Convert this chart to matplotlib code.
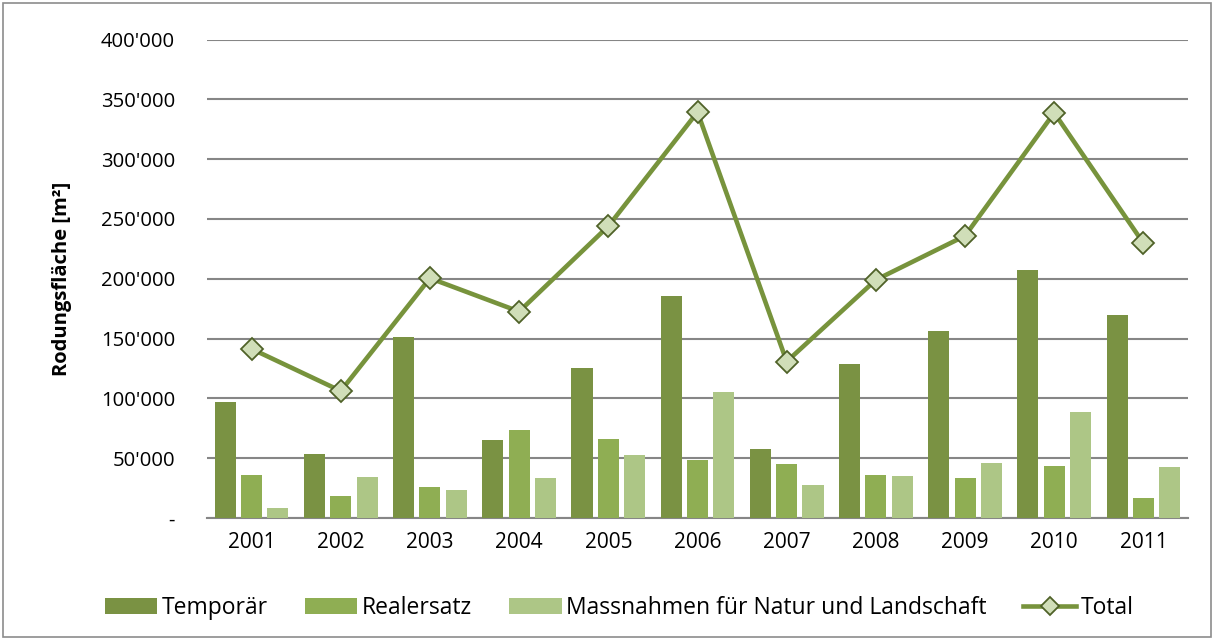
import numpy as np
import matplotlib.pyplot as plt
from matplotlib.patches import Rectangle
from matplotlib.ticker import FuncFormatter

years = ['2001', '2002', '2003', '2004', '2005', '2006', '2007', '2008', '2009', '2010', '2011']
temporaer = [97000, 53200, 151000, 65500, 125400, 185700, 58000, 128700, 156000, 207000, 169800]
realersatz = [35700, 18400, 26200, 73300, 65800, 48200, 44900, 35700, 33700, 43200, 17000]
massnahmen = [8600, 34600, 23100, 33400, 52400, 105100, 27600, 34800, 46000, 88300, 42900]
total = [141400, 106200, 200500, 172600, 244000, 339400, 130800, 199100, 235900, 338800, 229800]

plt.rcParams['font.family'] = ['Open Sans', 'DejaVu Sans']

fig = plt.figure(figsize=(12.14, 6.4), dpi=100)
ax = fig.add_axes([207 / 1214, 1 - 518 / 640, 981 / 1214, 478.4 / 640])

x = np.arange(len(years))
w = 0.236
off = 0.295
b1 = ax.bar(x - off, temporaer, w, color='#7a9243', label='Temporär', zorder=3)
b2 = ax.bar(x, realersatz, w, color='#8fae53', label='Realersatz', zorder=3)
b3 = ax.bar(x + off, massnahmen, w, color='#adc686', label='Massnahmen für Natur und Landschaft', zorder=3)
ln, = ax.plot(x, total, color='#77933c', lw=3.3, marker='D', ms=11, mfc='#d0deb8', mec='#4f6228',
              mew=1.3, label='Total', zorder=4)

ax.set_xlim(-0.5, len(years) - 0.5)
ax.set_ylim(0, 400000)
ax.set_yticks(np.arange(0, 400001, 50000))
ax.yaxis.set_major_formatter(FuncFormatter(lambda v, p: '-' if v == 0 else f"{int(v):,}".replace(',', "'")))
ax.set_xticks(x)
ax.set_xticklabels(years)
ax.tick_params(axis='y', length=0, labelsize=14.6, colors='black', pad=23)
ax.tick_params(axis='x', length=0, labelsize=15, colors='black', pad=10)
ax.grid(axis='y', color='#868686', lw=1.5, zorder=0)
for s in ['left', 'right', 'top']:
    ax.spines[s].set_visible(False)
ax.spines['bottom'].set_color('#868686')
ax.spines['bottom'].set_linewidth(1.5)
ax.set_ylabel('Rodungsfläche [m²]', fontsize=14.5, fontweight='bold', labelpad=20.5)

fig.legend([b1, b2, b3, ln], ['Temporär', 'Realersatz', 'Massnahmen für Natur und Landschaft', 'Total'],
           loc='center', bbox_to_anchor=(0.51, 1 - 608 / 640), ncol=4, frameon=False,
           fontsize=16.5, handlelength=2.3, handleheight=0.75, handletextpad=0.2, columnspacing=1.6,
           markerscale=0.85)

fig.patches.append(Rectangle((3 / 1214, 3 / 640), 1208 / 1214, 634 / 640, transform=fig.transFigure,
                             fill=False, edgecolor='#8c8c8c', lw=1.2))

fig.savefig('out.png', dpi=100)
